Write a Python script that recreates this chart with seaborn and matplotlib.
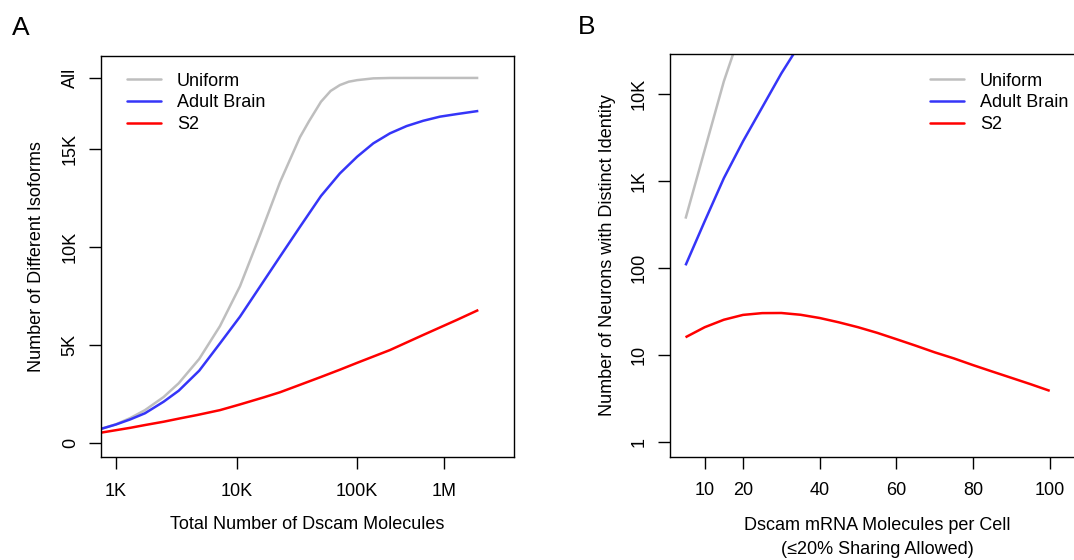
import matplotlib
matplotlib.use("Agg")
import matplotlib.pyplot as plt
import numpy as np
import pandas as pd
import seaborn as sns
from matplotlib.lines import Line2D

# ---------------- data ----------------
series_names = ["Uniform", "Adult Brain", "S2"]
series_colors = ["#BEBEBE", "#3535F8", "#FF0000"]

# Panel A: total number of Dscam molecules vs number of different isoforms
a_uniform_x = [746, 1000, 1315, 1738, 2483, 3311, 4898, 7278, 10666, 15631,
               22909, 28184, 33574, 39811, 50119, 60256, 71945, 85114,
               100000, 136144, 187068, 316228, 1011579]
a_uniform = [730, 970, 1290, 1690, 2360, 3060, 4300, 5970, 8000, 10600,
             13300, 14550, 15600, 16400, 17400, 17950, 18250, 18420,
             18500, 18590, 18610, 18612, 18612]
a_brain_x = [746, 1000, 1315, 1738, 2483, 3311, 4898, 7278, 10666, 15631,
             22909, 33574, 50119, 71945, 100000, 136144, 187068, 257040,
             353183, 486407, 668344, 1011579]
a_brain = [730, 960, 1220, 1530, 2120, 2680, 3700, 5090, 6450, 7980,
           9510, 11030, 12600, 13750, 14600, 15280, 15790, 16160,
           16430, 16640, 16770, 16930]
a_s2_x = [746, 1315, 1738, 2483, 3396, 4699, 7278, 8872, 10666, 16788,
          22909, 31623, 50119, 71945, 100000, 187068, 353183, 668344,
          1011579]
a_s2 = [540, 790, 930, 1100, 1270, 1440, 1690, 1840, 1980, 2340,
        2600, 2920, 3380, 3750, 4100, 4750, 5520, 6280, 6790]
a_xticks = [1000, 10000, 100000, 525000]
a_xticklabels = ["1K", "10K", "100K", "1M"]
a_yticks = [0, 5000, 10000, 15000, 18612]
a_yticklabels = ["0", "5K", "10K", "15K", "All"]

# Panel B: Dscam mRNA molecules per cell vs neurons with distinct identity
b_uniform_x = [5, 10, 15, 20]
b_uniform = [372, 2290, 14100, 63000]
b_brain_x = [5, 10, 15, 20, 25, 30, 35]
b_brain = [108, 347, 1086, 2884, 7079, 17400, 38900]
b_s2_x = [5, 10, 15, 20, 25, 30, 35, 40, 45, 50, 55, 60, 65, 70, 75, 80,
          85, 90, 95, 100]
b_s2 = [16.1, 21.0, 25.6, 29.1, 30.5, 30.6, 29.2, 26.8, 23.9, 21.0, 18.1,
        15.3, 12.9, 10.8, 9.2, 7.7, 6.5, 5.5, 4.65, 3.9]
b_xticks = [10, 20, 40, 60, 80, 100]
b_xticklabels = ["10", "20", "40", "60", "80", "100"]
b_yticks = [1, 10, 100, 1000, 10000]
b_yticklabels = ["1", "10", "100", "1K", "10K"]

# ---------------- style ----------------
sns.set_theme(style="ticks")
plt.rcParams["font.family"] = ["Liberation Sans", "DejaVu Sans"]
for k in ["text.color", "axes.labelcolor", "xtick.color", "ytick.color",
          "axes.edgecolor"]:
    plt.rcParams[k] = "black"
FS = 13
LW = 1.8

W, H = 1074, 560
fig = plt.figure(figsize=(W / 100, H / 100), dpi=100)
fig.patch.set_facecolor("white")


def px_axes(l, t, r, b):
    return fig.add_axes([l / W, 1 - b / H, (r - l) / W, (b - t) / H])


axA = px_axes(100.7, 55.7, 514.0, 457.3)
axB = px_axes(670.0, 54.0, 1085.0, 456.7)

pal = dict(zip(series_names, series_colors))

dfA = pd.concat([
    pd.DataFrame({"x": a_uniform_x, "y": a_uniform, "series": "Uniform"}),
    pd.DataFrame({"x": a_brain_x, "y": a_brain, "series": "Adult Brain"}),
    pd.DataFrame({"x": a_s2_x, "y": a_s2, "series": "S2"}),
])
dfB = pd.concat([
    pd.DataFrame({"x": b_uniform_x, "y": b_uniform, "series": "Uniform"}),
    pd.DataFrame({"x": b_brain_x, "y": b_brain, "series": "Adult Brain"}),
    pd.DataFrame({"x": b_s2_x, "y": b_s2, "series": "S2"}),
])

axA.set_xscale("log")
axB.set_yscale("log")

sns.lineplot(data=dfA, x="x", y="y", hue="series", hue_order=series_names,
             palette=pal, estimator=None, sort=False, lw=LW, legend=False,
             ax=axA)
sns.lineplot(data=dfB, x="x", y="y", hue="series", hue_order=series_names,
             palette=pal, estimator=None, sort=False, lw=LW, legend=False,
             ax=axB)
for ax in (axA, axB):
    for ln in ax.get_lines():
        ln.set_solid_joinstyle("round")
        ln.set_solid_capstyle("butt")

axA.set_xlim(746, 2.0e6)
axA.set_ylim(-713, 19745)
axB.set_xlim(0.95, 109.2)
axB.set_ylim(0.682, 29040)

for ax, xt, xtl, yt, ytl in [(axA, a_xticks, a_xticklabels, a_yticks, a_yticklabels),
                             (axB, b_xticks, b_xticklabels, b_yticks, b_yticklabels)]:
    ax.set_xticks(xt)
    ax.set_xticklabels(xtl, fontsize=FS)
    ax.xaxis.set_minor_locator(matplotlib.ticker.NullLocator())
    ax.yaxis.set_minor_locator(matplotlib.ticker.NullLocator())
    ax.set_yticks(yt)
    ax.set_yticklabels(ytl, fontsize=FS, rotation=90, va="center")
    ax.tick_params(axis="both", direction="out", length=8.3, width=1.0,
                   color="black", labelcolor="black")
    ax.tick_params(axis="x", pad=10)
    ax.tick_params(axis="y", pad=7.5)
    for s in ax.spines.values():
        s.set_visible(True)
        s.set_color("black")
        s.set_linewidth(1.0)
    ax.set_facecolor("white")
    ax.grid(False)

axA.set_xlabel("Total Number of Dscam Molecules", fontsize=FS, va="center")
axA.xaxis.set_label_coords(0.5, -0.167)
axA.set_ylabel("Number of Different Isoforms", fontsize=FS, va="center")
axA.yaxis.set_label_coords(-0.155, 0.5)

axB.set_xlabel("Dscam mRNA Molecules per Cell\n(\u226420% Sharing Allowed)",
               fontsize=FS, va="center", linespacing=1.5)
axB.xaxis.set_label_coords(0.5, -0.2006)
axB.set_ylabel("Number of Neurons with Distinct Identity", fontsize=FS,
               va="center")
axB.yaxis.set_label_coords(-0.151, 0.5)

handles = [Line2D([], [], color=c, lw=LW) for c in series_colors]
for ax, xl in [(axA, 126.7), (axB, 929.8)]:
    ax.legend(handles, series_names, loc="upper left",
              bbox_to_anchor=(xl / W, 1 - 72.5 / H),
              bbox_transform=fig.transFigure, frameon=False, fontsize=FS,
              borderpad=0, borderaxespad=0, handlelength=1.88,
              handletextpad=0.89, labelspacing=0.26)

fig.text(11.5 / W, 1 - 28 / H, "A", fontsize=19, va="center", ha="left")
fig.text(577.4 / W, 1 - 27 / H, "B", fontsize=19, va="center", ha="left")

fig.savefig("out.png", dpi=100, facecolor="white")
